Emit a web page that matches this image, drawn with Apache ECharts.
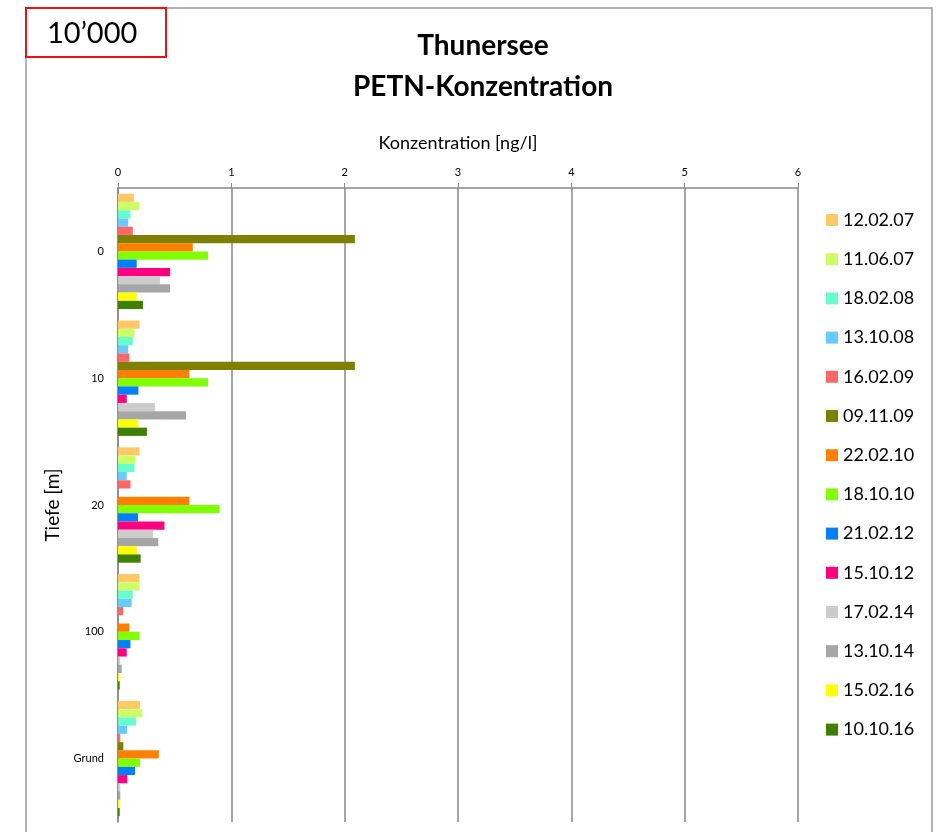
<!DOCTYPE html>
<html>
<head>
<meta charset="utf-8">
<script src="https://cdn.jsdelivr.net/npm/echarts@6/dist/echarts.min.js"></script>
<style>
 html, body { margin: 0; padding: 0; background: #fff; }
 #chart { width: 944px; height: 832px; }
</style>
</head>
<body>
<div id="chart"></div>
<script>
// depth categories (top to bottom)
const depths = ['0', '10', '20', '100', 'Grund']
const xTicks = [0, 1, 2, 3, 4, 5, 6]

// sampling dates and their bar colours
const dates = ['12.02.07', '11.06.07', '18.02.08', '13.10.08', '16.02.09', '09.11.09', '22.02.10',
 '18.10.10', '21.02.12', '15.10.12', '17.02.14', '13.10.14', '15.02.16', '10.10.16']
const colors = ['#FFC966', '#CCFF66', '#66FFCC', '#66CCFF', '#FF6666', '#808000', '#FF8000',
 '#80FF00', '#0080FF', '#FF0080', '#CCCCCC', '#A6A6A6', '#FFFF00', '#408000']

// PETN concentration [ng/l] per date, values for depths 0, 10, 20, 100, Grund
const v120207 = [0.14, 0.19, 0.19, 0.19, 0.195]
const v110607 = [0.19, 0.145, 0.155, 0.19, 0.215]
const v180208 = [0.11, 0.13, 0.145, 0.13, 0.16]
const v131008 = [0.09, 0.09, 0.077, 0.12, 0.08]
const v160209 = [0.13, 0.10, 0.11, 0.045, 0.02]
const v091109 = [2.09, 2.09, 0, 0, 0.047]
const v220210 = [0.66, 0.63, 0.63, 0.10, 0.36]
const v181010 = [0.795, 0.795, 0.895, 0.19, 0.195]
const v210212 = [0.165, 0.18, 0.177, 0.11, 0.15]
const v151012 = [0.46, 0.077, 0.41, 0.077, 0.082]
const v170214 = [0.37, 0.325, 0.31, 0.02, 0.02]
const v131014 = [0.46, 0.60, 0.355, 0.033, 0.02]
const v150216 = [0.165, 0.18, 0.165, 0.01, 0.012]
const v101016 = [0.22, 0.255, 0.20, 0.015, 0.015]

const values = [v120207, v110607, v180208, v131008, v160209, v091109, v220210,
 v181010, v210212, v151012, v170214, v131014, v150216, v101016]

const FONT = 'Lato, "Open Sans", sans-serif'

const series = dates.map((d, i) => ({
 name: d,
 type: 'bar',
 data: values[i],
 barGap: '0%',
 barCategoryGap: '9%',
 itemStyle: { color: colors[i] }
}))

const option = {
 animation: false,
 textStyle: { fontFamily: FONT },
 title: {
  text: 'Thunersee\nPETN-Konzentration',
  left: 478,
  top: 20,
  textAlign: 'center',
  textStyle: { fontFamily: FONT, fontSize: 28, fontWeight: 'bold', color: '#000', lineHeight: 41 }
 },
 legend: {
  orient: 'vertical',
  left: 826,
  top: 211,
  padding: 0,
  itemWidth: 12,
  itemHeight: 12,
  itemGap: 21.2,
  icon: 'rect',
  textStyle: { fontFamily: FONT, fontSize: 18, color: '#000' },
  data: dates
 },
 grid: { left: 118, top: 188, right: 146, bottom: 10 },
 xAxis: {
  type: 'value',
  position: 'top',
  min: xTicks[0],
  max: xTicks[xTicks.length - 1],
  interval: 1,
  name: 'Konzentration [ng/l]',
  nameLocation: 'middle',
  nameGap: 36,
  nameTextStyle: { fontFamily: FONT, fontSize: 18, color: '#000' },
  axisLine: { show: true, lineStyle: { color: '#888', width: 1.5 } },
  axisTick: { show: true, length: 5, lineStyle: { color: '#888' } },
  axisLabel: { fontSize: 11, color: '#000', margin: 10 },
  splitLine: { show: true, lineStyle: { color: '#888', width: 1.5 } }
 },
 yAxis: {
  type: 'category',
  inverse: true,
  data: depths,
  name: 'Tiefe [m]',
  nameLocation: 'middle',
  nameRotate: 90,
  nameGap: 51,
  nameTextStyle: { fontFamily: FONT, fontSize: 19, color: '#000' },
  axisLine: { show: true, lineStyle: { color: '#888', width: 1.5 } },
  axisTick: { show: false },
  axisLabel: { fontSize: 11, color: '#000', margin: 14 }
 },
 graphic: [
  {
   type: 'rect',
   shape: { x: 26, y: 8, width: 906, height: 840 },
   style: { fill: 'none', stroke: '#999', lineWidth: 1.5 },
   silent: true
  },
  {
   type: 'rect',
   shape: { x: 26, y: 8, width: 140, height: 49 },
   style: { fill: '#fff', stroke: '#ee1111', lineWidth: 2 },
   z: 100
  },
  {
   type: 'text',
   x: 47,
   y: 34,
   z: 101,
   style: { text: '10’000', fontFamily: FONT, fontSize: 29, fill: '#000', textVerticalAlign: 'middle' }
  }
 ],
 series: series
}

const chart = echarts.init(document.getElementById('chart'))
chart.setOption(option)
</script>
</body>
</html>
